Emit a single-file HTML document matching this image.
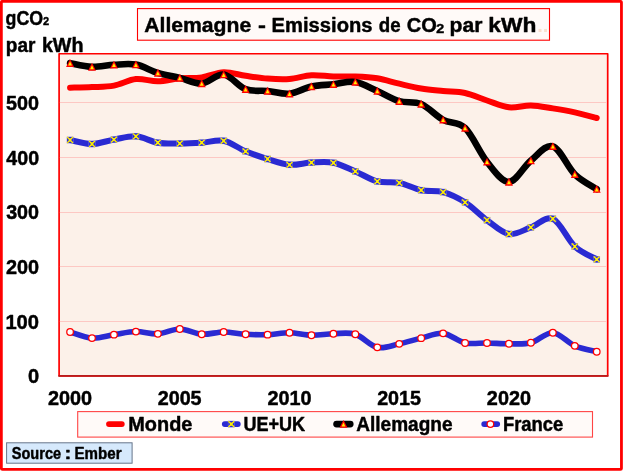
<!DOCTYPE html>
<html lang="fr"><head><meta charset="utf-8"><title>Allemagne - Emissions de CO2 par kWh</title>
<style>html,body{margin:0;padding:0;background:#ffffff;overflow:hidden;}svg{display:block;will-change:transform;}text{font-family:"Liberation Sans",sans-serif;font-weight:bold;fill:#000000;stroke:#000000;stroke-width:0.45px;stroke-linejoin:round;}</style></head><body>
<svg width="624" height="472" viewBox="0 0 624 472">
<rect x="0" y="0" width="624" height="472" fill="#ffffff"/>
<rect x="1.35" y="1.35" width="620.1" height="468.05" rx="1" ry="1" fill="#ffffff" stroke="#ff0000" stroke-width="2.8"/>
<rect x="59.1" y="53.75" width="548.6" height="322.1" fill="#fcf1e9" stroke="#ff0000" stroke-width="1.7" stroke-linejoin="round"/>
<line x1="59.9" x2="606.9" y1="102.5" y2="102.5" stroke="#fdc8c3" stroke-width="1"/>
<line x1="59.9" x2="606.9" y1="157.5" y2="157.5" stroke="#fdc8c3" stroke-width="1"/>
<line x1="59.9" x2="606.9" y1="212.5" y2="212.5" stroke="#fdc8c3" stroke-width="1"/>
<line x1="59.9" x2="606.9" y1="266.5" y2="266.5" stroke="#fdc8c3" stroke-width="1"/>
<line x1="59.9" x2="606.9" y1="321.5" y2="321.5" stroke="#fdc8c3" stroke-width="1"/>
<line x1="58.4" x2="608.4" y1="375.95" y2="375.95" stroke="#b81c1c" stroke-width="1.8"/>
<path d="M70.07 87.70 C73.73 87.60 84.70 87.45 92.01 87.10 C99.33 86.75 106.64 86.93 113.96 85.60 C121.27 84.27 128.59 79.82 135.90 79.10 C143.22 78.38 150.53 81.43 157.85 81.30 C165.16 81.17 172.48 78.95 179.79 78.30 C187.10 77.65 194.42 78.40 201.73 77.40 C209.05 76.40 216.36 72.57 223.68 72.30 C230.99 72.03 238.31 74.75 245.62 75.80 C252.94 76.85 260.25 78.07 267.57 78.60 C274.88 79.13 282.20 79.57 289.51 79.00 C296.82 78.43 304.14 75.62 311.45 75.20 C318.77 74.78 326.08 76.28 333.40 76.50 C340.71 76.72 348.03 76.20 355.34 76.50 C362.66 76.80 369.97 77.10 377.29 78.30 C384.60 79.50 391.92 82.00 399.23 83.70 C406.54 85.40 413.86 87.28 421.17 88.50 C428.49 89.72 435.80 90.25 443.12 91.00 C450.43 91.75 457.75 91.42 465.06 93.00 C472.38 94.58 479.69 98.12 487.01 100.50 C494.32 102.88 501.64 106.48 508.95 107.30 C516.26 108.12 523.58 105.22 530.89 105.40 C538.21 105.58 545.52 107.23 552.84 108.40 C560.15 109.57 567.47 110.80 574.78 112.40 C582.10 114.00 593.07 117.07 596.73 118.00" fill="none" stroke="#ff0000" stroke-width="6" stroke-linecap="round" stroke-linejoin="round"/>
<path d="M70.07 140.00 C73.73 140.67 84.70 144.07 92.01 144.00 C99.33 143.93 106.64 140.88 113.96 139.60 C121.27 138.32 128.59 135.78 135.90 136.30 C143.22 136.82 150.53 141.50 157.85 142.70 C165.16 143.90 172.48 143.50 179.79 143.50 C187.10 143.50 194.42 143.15 201.73 142.70 C209.05 142.25 216.36 139.37 223.68 140.80 C230.99 142.23 238.31 148.27 245.62 151.30 C252.94 154.33 260.25 156.75 267.57 159.00 C274.88 161.25 282.20 164.20 289.51 164.80 C296.82 165.40 304.14 162.93 311.45 162.60 C318.77 162.27 326.08 161.33 333.40 162.80 C340.71 164.27 348.03 168.30 355.34 171.40 C362.66 174.50 369.97 179.48 377.29 181.40 C384.60 183.32 391.92 181.43 399.23 182.90 C406.54 184.37 413.86 188.67 421.17 190.20 C428.49 191.73 435.80 190.08 443.12 192.10 C450.43 194.12 457.75 197.62 465.06 202.30 C472.38 206.98 479.69 214.92 487.01 220.20 C494.32 225.48 501.64 232.80 508.95 234.00 C516.26 235.20 523.58 229.93 530.89 227.40 C538.21 224.87 545.52 215.62 552.84 218.80 C560.15 221.98 567.47 239.73 574.78 246.50 C582.10 253.27 593.07 257.25 596.73 259.40" fill="none" stroke="#2a2ad2" stroke-width="6" stroke-linecap="round" stroke-linejoin="round"/>
<g><rect x="66.87" y="136.80" width="6.4" height="6.4" fill="#2a2ad2" stroke="#c8c8e0" stroke-width="0.4" stroke-opacity="0.6"/><path d="M67.17 137.10 L72.97 142.90 M67.17 142.90 L72.97 137.10" stroke="#ffee00" stroke-width="1.35" fill="none"/><rect x="68.97" y="138.50" width="2.2" height="3" fill="#ffee00"/><rect x="88.81" y="140.80" width="6.4" height="6.4" fill="#2a2ad2" stroke="#c8c8e0" stroke-width="0.4" stroke-opacity="0.6"/><path d="M89.11 141.10 L94.91 146.90 M89.11 146.90 L94.91 141.10" stroke="#ffee00" stroke-width="1.35" fill="none"/><rect x="90.91" y="142.50" width="2.2" height="3" fill="#ffee00"/><rect x="110.76" y="136.40" width="6.4" height="6.4" fill="#2a2ad2" stroke="#c8c8e0" stroke-width="0.4" stroke-opacity="0.6"/><path d="M111.06 136.70 L116.86 142.50 M111.06 142.50 L116.86 136.70" stroke="#ffee00" stroke-width="1.35" fill="none"/><rect x="112.86" y="138.10" width="2.2" height="3" fill="#ffee00"/><rect x="132.70" y="133.10" width="6.4" height="6.4" fill="#2a2ad2" stroke="#c8c8e0" stroke-width="0.4" stroke-opacity="0.6"/><path d="M133.00 133.40 L138.80 139.20 M133.00 139.20 L138.80 133.40" stroke="#ffee00" stroke-width="1.35" fill="none"/><rect x="134.80" y="134.80" width="2.2" height="3" fill="#ffee00"/><rect x="154.65" y="139.50" width="6.4" height="6.4" fill="#2a2ad2" stroke="#c8c8e0" stroke-width="0.4" stroke-opacity="0.6"/><path d="M154.95 139.80 L160.75 145.60 M154.95 145.60 L160.75 139.80" stroke="#ffee00" stroke-width="1.35" fill="none"/><rect x="156.75" y="141.20" width="2.2" height="3" fill="#ffee00"/><rect x="176.59" y="140.30" width="6.4" height="6.4" fill="#2a2ad2" stroke="#c8c8e0" stroke-width="0.4" stroke-opacity="0.6"/><path d="M176.89 140.60 L182.69 146.40 M176.89 146.40 L182.69 140.60" stroke="#ffee00" stroke-width="1.35" fill="none"/><rect x="178.69" y="142.00" width="2.2" height="3" fill="#ffee00"/><rect x="198.53" y="139.50" width="6.4" height="6.4" fill="#2a2ad2" stroke="#c8c8e0" stroke-width="0.4" stroke-opacity="0.6"/><path d="M198.83 139.80 L204.63 145.60 M198.83 145.60 L204.63 139.80" stroke="#ffee00" stroke-width="1.35" fill="none"/><rect x="200.63" y="141.20" width="2.2" height="3" fill="#ffee00"/><rect x="220.48" y="137.60" width="6.4" height="6.4" fill="#2a2ad2" stroke="#c8c8e0" stroke-width="0.4" stroke-opacity="0.6"/><path d="M220.78 137.90 L226.58 143.70 M220.78 143.70 L226.58 137.90" stroke="#ffee00" stroke-width="1.35" fill="none"/><rect x="222.58" y="139.30" width="2.2" height="3" fill="#ffee00"/><rect x="242.42" y="148.10" width="6.4" height="6.4" fill="#2a2ad2" stroke="#c8c8e0" stroke-width="0.4" stroke-opacity="0.6"/><path d="M242.72 148.40 L248.52 154.20 M242.72 154.20 L248.52 148.40" stroke="#ffee00" stroke-width="1.35" fill="none"/><rect x="244.52" y="149.80" width="2.2" height="3" fill="#ffee00"/><rect x="264.37" y="155.80" width="6.4" height="6.4" fill="#2a2ad2" stroke="#c8c8e0" stroke-width="0.4" stroke-opacity="0.6"/><path d="M264.67 156.10 L270.47 161.90 M264.67 161.90 L270.47 156.10" stroke="#ffee00" stroke-width="1.35" fill="none"/><rect x="266.47" y="157.50" width="2.2" height="3" fill="#ffee00"/><rect x="286.31" y="161.60" width="6.4" height="6.4" fill="#2a2ad2" stroke="#c8c8e0" stroke-width="0.4" stroke-opacity="0.6"/><path d="M286.61 161.90 L292.41 167.70 M286.61 167.70 L292.41 161.90" stroke="#ffee00" stroke-width="1.35" fill="none"/><rect x="288.41" y="163.30" width="2.2" height="3" fill="#ffee00"/><rect x="308.25" y="159.40" width="6.4" height="6.4" fill="#2a2ad2" stroke="#c8c8e0" stroke-width="0.4" stroke-opacity="0.6"/><path d="M308.55 159.70 L314.35 165.50 M308.55 165.50 L314.35 159.70" stroke="#ffee00" stroke-width="1.35" fill="none"/><rect x="310.35" y="161.10" width="2.2" height="3" fill="#ffee00"/><rect x="330.20" y="159.60" width="6.4" height="6.4" fill="#2a2ad2" stroke="#c8c8e0" stroke-width="0.4" stroke-opacity="0.6"/><path d="M330.50 159.90 L336.30 165.70 M330.50 165.70 L336.30 159.90" stroke="#ffee00" stroke-width="1.35" fill="none"/><rect x="332.30" y="161.30" width="2.2" height="3" fill="#ffee00"/><rect x="352.14" y="168.20" width="6.4" height="6.4" fill="#2a2ad2" stroke="#c8c8e0" stroke-width="0.4" stroke-opacity="0.6"/><path d="M352.44 168.50 L358.24 174.30 M352.44 174.30 L358.24 168.50" stroke="#ffee00" stroke-width="1.35" fill="none"/><rect x="354.24" y="169.90" width="2.2" height="3" fill="#ffee00"/><rect x="374.09" y="178.20" width="6.4" height="6.4" fill="#2a2ad2" stroke="#c8c8e0" stroke-width="0.4" stroke-opacity="0.6"/><path d="M374.39 178.50 L380.19 184.30 M374.39 184.30 L380.19 178.50" stroke="#ffee00" stroke-width="1.35" fill="none"/><rect x="376.19" y="179.90" width="2.2" height="3" fill="#ffee00"/><rect x="396.03" y="179.70" width="6.4" height="6.4" fill="#2a2ad2" stroke="#c8c8e0" stroke-width="0.4" stroke-opacity="0.6"/><path d="M396.33 180.00 L402.13 185.80 M396.33 185.80 L402.13 180.00" stroke="#ffee00" stroke-width="1.35" fill="none"/><rect x="398.13" y="181.40" width="2.2" height="3" fill="#ffee00"/><rect x="417.97" y="187.00" width="6.4" height="6.4" fill="#2a2ad2" stroke="#c8c8e0" stroke-width="0.4" stroke-opacity="0.6"/><path d="M418.27 187.30 L424.07 193.10 M418.27 193.10 L424.07 187.30" stroke="#ffee00" stroke-width="1.35" fill="none"/><rect x="420.07" y="188.70" width="2.2" height="3" fill="#ffee00"/><rect x="439.92" y="188.90" width="6.4" height="6.4" fill="#2a2ad2" stroke="#c8c8e0" stroke-width="0.4" stroke-opacity="0.6"/><path d="M440.22 189.20 L446.02 195.00 M440.22 195.00 L446.02 189.20" stroke="#ffee00" stroke-width="1.35" fill="none"/><rect x="442.02" y="190.60" width="2.2" height="3" fill="#ffee00"/><rect x="461.86" y="199.10" width="6.4" height="6.4" fill="#2a2ad2" stroke="#c8c8e0" stroke-width="0.4" stroke-opacity="0.6"/><path d="M462.16 199.40 L467.96 205.20 M462.16 205.20 L467.96 199.40" stroke="#ffee00" stroke-width="1.35" fill="none"/><rect x="463.96" y="200.80" width="2.2" height="3" fill="#ffee00"/><rect x="483.81" y="217.00" width="6.4" height="6.4" fill="#2a2ad2" stroke="#c8c8e0" stroke-width="0.4" stroke-opacity="0.6"/><path d="M484.11 217.30 L489.91 223.10 M484.11 223.10 L489.91 217.30" stroke="#ffee00" stroke-width="1.35" fill="none"/><rect x="485.91" y="218.70" width="2.2" height="3" fill="#ffee00"/><rect x="505.75" y="230.80" width="6.4" height="6.4" fill="#2a2ad2" stroke="#c8c8e0" stroke-width="0.4" stroke-opacity="0.6"/><path d="M506.05 231.10 L511.85 236.90 M506.05 236.90 L511.85 231.10" stroke="#ffee00" stroke-width="1.35" fill="none"/><rect x="507.85" y="232.50" width="2.2" height="3" fill="#ffee00"/><rect x="527.69" y="224.20" width="6.4" height="6.4" fill="#2a2ad2" stroke="#c8c8e0" stroke-width="0.4" stroke-opacity="0.6"/><path d="M527.99 224.50 L533.79 230.30 M527.99 230.30 L533.79 224.50" stroke="#ffee00" stroke-width="1.35" fill="none"/><rect x="529.79" y="225.90" width="2.2" height="3" fill="#ffee00"/><rect x="549.64" y="215.60" width="6.4" height="6.4" fill="#2a2ad2" stroke="#c8c8e0" stroke-width="0.4" stroke-opacity="0.6"/><path d="M549.94 215.90 L555.74 221.70 M549.94 221.70 L555.74 215.90" stroke="#ffee00" stroke-width="1.35" fill="none"/><rect x="551.74" y="217.30" width="2.2" height="3" fill="#ffee00"/><rect x="571.58" y="243.30" width="6.4" height="6.4" fill="#2a2ad2" stroke="#c8c8e0" stroke-width="0.4" stroke-opacity="0.6"/><path d="M571.88 243.60 L577.68 249.40 M571.88 249.40 L577.68 243.60" stroke="#ffee00" stroke-width="1.35" fill="none"/><rect x="573.68" y="245.00" width="2.2" height="3" fill="#ffee00"/><rect x="593.53" y="256.20" width="6.4" height="6.4" fill="#2a2ad2" stroke="#c8c8e0" stroke-width="0.4" stroke-opacity="0.6"/><path d="M593.83 256.50 L599.63 262.30 M593.83 262.30 L599.63 256.50" stroke="#ffee00" stroke-width="1.35" fill="none"/><rect x="595.63" y="257.90" width="2.2" height="3" fill="#ffee00"/></g>
<path d="M70.07 63.20 C73.73 63.82 84.70 66.63 92.01 66.90 C99.33 67.17 106.64 65.18 113.96 64.80 C121.27 64.42 128.59 63.25 135.90 64.60 C143.22 65.95 150.53 70.68 157.85 72.90 C165.16 75.12 172.48 76.13 179.79 77.90 C187.10 79.67 194.42 84.05 201.73 83.50 C209.05 82.95 216.36 73.65 223.68 74.60 C230.99 75.55 238.31 86.47 245.62 89.20 C252.94 91.93 260.25 90.25 267.57 91.00 C274.88 91.75 282.20 94.45 289.51 93.70 C296.82 92.95 304.14 88.07 311.45 86.50 C318.77 84.93 326.08 85.05 333.40 84.30 C340.71 83.55 348.03 80.88 355.34 82.00 C362.66 83.12 369.97 87.80 377.29 91.00 C384.60 94.20 391.92 99.03 399.23 101.20 C406.54 103.37 413.86 100.90 421.17 104.00 C428.49 107.10 435.80 115.82 443.12 119.80 C450.43 123.78 457.75 120.90 465.06 127.90 C472.38 134.90 479.69 152.80 487.01 161.80 C494.32 170.80 501.64 182.10 508.95 181.90 C516.26 181.70 523.58 166.53 530.89 160.60 C538.21 154.67 545.52 144.02 552.84 146.30 C560.15 148.58 567.47 167.17 574.78 174.30 C582.10 181.43 593.07 186.63 596.73 189.10" fill="none" stroke="#000000" stroke-width="6.6" stroke-linecap="round" stroke-linejoin="round"/>
<g><path d="M70.07 59.05 L74.07 66.95 L66.07 66.95 Z" fill="#ff0000"/><path d="M70.07 61.50 L72.02 65.50 L68.12 65.50 Z" fill="#ffee00"/><path d="M92.01 62.75 L96.01 70.65 L88.01 70.65 Z" fill="#ff0000"/><path d="M92.01 65.20 L93.96 69.20 L90.06 69.20 Z" fill="#ffee00"/><path d="M113.96 60.65 L117.96 68.55 L109.96 68.55 Z" fill="#ff0000"/><path d="M113.96 63.10 L115.91 67.10 L112.01 67.10 Z" fill="#ffee00"/><path d="M135.90 60.45 L139.90 68.35 L131.90 68.35 Z" fill="#ff0000"/><path d="M135.90 62.90 L137.85 66.90 L133.95 66.90 Z" fill="#ffee00"/><path d="M157.85 68.75 L161.85 76.65 L153.85 76.65 Z" fill="#ff0000"/><path d="M157.85 71.20 L159.80 75.20 L155.90 75.20 Z" fill="#ffee00"/><path d="M179.79 73.75 L183.79 81.65 L175.79 81.65 Z" fill="#ff0000"/><path d="M179.79 76.20 L181.74 80.20 L177.84 80.20 Z" fill="#ffee00"/><path d="M201.73 79.35 L205.73 87.25 L197.73 87.25 Z" fill="#ff0000"/><path d="M201.73 81.80 L203.68 85.80 L199.78 85.80 Z" fill="#ffee00"/><path d="M223.68 70.45 L227.68 78.35 L219.68 78.35 Z" fill="#ff0000"/><path d="M223.68 72.90 L225.63 76.90 L221.73 76.90 Z" fill="#ffee00"/><path d="M245.62 85.05 L249.62 92.95 L241.62 92.95 Z" fill="#ff0000"/><path d="M245.62 87.50 L247.57 91.50 L243.67 91.50 Z" fill="#ffee00"/><path d="M267.57 86.85 L271.57 94.75 L263.57 94.75 Z" fill="#ff0000"/><path d="M267.57 89.30 L269.52 93.30 L265.62 93.30 Z" fill="#ffee00"/><path d="M289.51 89.55 L293.51 97.45 L285.51 97.45 Z" fill="#ff0000"/><path d="M289.51 92.00 L291.46 96.00 L287.56 96.00 Z" fill="#ffee00"/><path d="M311.45 82.35 L315.45 90.25 L307.45 90.25 Z" fill="#ff0000"/><path d="M311.45 84.80 L313.40 88.80 L309.50 88.80 Z" fill="#ffee00"/><path d="M333.40 80.15 L337.40 88.05 L329.40 88.05 Z" fill="#ff0000"/><path d="M333.40 82.60 L335.35 86.60 L331.45 86.60 Z" fill="#ffee00"/><path d="M355.34 77.85 L359.34 85.75 L351.34 85.75 Z" fill="#ff0000"/><path d="M355.34 80.30 L357.29 84.30 L353.39 84.30 Z" fill="#ffee00"/><path d="M377.29 86.85 L381.29 94.75 L373.29 94.75 Z" fill="#ff0000"/><path d="M377.29 89.30 L379.24 93.30 L375.34 93.30 Z" fill="#ffee00"/><path d="M399.23 97.05 L403.23 104.95 L395.23 104.95 Z" fill="#ff0000"/><path d="M399.23 99.50 L401.18 103.50 L397.28 103.50 Z" fill="#ffee00"/><path d="M421.17 99.85 L425.17 107.75 L417.17 107.75 Z" fill="#ff0000"/><path d="M421.17 102.30 L423.12 106.30 L419.22 106.30 Z" fill="#ffee00"/><path d="M443.12 115.65 L447.12 123.55 L439.12 123.55 Z" fill="#ff0000"/><path d="M443.12 118.10 L445.07 122.10 L441.17 122.10 Z" fill="#ffee00"/><path d="M465.06 123.75 L469.06 131.65 L461.06 131.65 Z" fill="#ff0000"/><path d="M465.06 126.20 L467.01 130.20 L463.11 130.20 Z" fill="#ffee00"/><path d="M487.01 157.65 L491.01 165.55 L483.01 165.55 Z" fill="#ff0000"/><path d="M487.01 160.10 L488.96 164.10 L485.06 164.10 Z" fill="#ffee00"/><path d="M508.95 177.75 L512.95 185.65 L504.95 185.65 Z" fill="#ff0000"/><path d="M508.95 180.20 L510.90 184.20 L507.00 184.20 Z" fill="#ffee00"/><path d="M530.89 156.45 L534.89 164.35 L526.89 164.35 Z" fill="#ff0000"/><path d="M530.89 158.90 L532.84 162.90 L528.94 162.90 Z" fill="#ffee00"/><path d="M552.84 142.15 L556.84 150.05 L548.84 150.05 Z" fill="#ff0000"/><path d="M552.84 144.60 L554.79 148.60 L550.89 148.60 Z" fill="#ffee00"/><path d="M574.78 170.15 L578.78 178.05 L570.78 178.05 Z" fill="#ff0000"/><path d="M574.78 172.60 L576.73 176.60 L572.83 176.60 Z" fill="#ffee00"/><path d="M596.73 184.95 L600.73 192.85 L592.73 192.85 Z" fill="#ff0000"/><path d="M596.73 187.40 L598.68 191.40 L594.78 191.40 Z" fill="#ffee00"/></g>
<path d="M70.07 331.95 C73.73 332.97 84.70 337.60 92.01 338.05 C99.33 338.50 106.64 335.73 113.96 334.65 C121.27 333.57 128.59 331.68 135.90 331.55 C143.22 331.42 150.53 334.28 157.85 333.85 C165.16 333.42 172.48 328.88 179.79 328.95 C187.10 329.02 194.42 333.75 201.73 334.25 C209.05 334.75 216.36 331.95 223.68 331.95 C230.99 331.95 238.31 333.80 245.62 334.25 C252.94 334.70 260.25 334.90 267.57 334.65 C274.88 334.40 282.20 332.65 289.51 332.75 C296.82 332.85 304.14 335.08 311.45 335.25 C318.77 335.42 326.08 333.92 333.40 333.75 C340.71 333.58 348.03 331.98 355.34 334.25 C362.66 336.52 369.97 345.75 377.29 347.35 C384.60 348.95 391.92 345.38 399.23 343.85 C406.54 342.32 413.86 339.90 421.17 338.15 C428.49 336.40 435.80 332.55 443.12 333.35 C450.43 334.15 457.75 341.35 465.06 342.95 C472.38 344.55 479.69 342.82 487.01 342.95 C494.32 343.08 501.64 343.78 508.95 343.75 C516.26 343.72 523.58 344.58 530.89 342.75 C538.21 340.92 545.52 332.23 552.84 332.75 C560.15 333.27 567.47 342.68 574.78 345.85 C582.10 349.02 593.07 350.77 596.73 351.75" fill="none" stroke="#2a2ad2" stroke-width="5.6" stroke-linecap="round" stroke-linejoin="round"/>
<g><circle cx="70.07" cy="331.95" r="3.30" fill="#ffffff" stroke="#ff0000" stroke-width="1.25"/><circle cx="92.01" cy="338.05" r="3.30" fill="#ffffff" stroke="#ff0000" stroke-width="1.25"/><circle cx="113.96" cy="334.65" r="3.30" fill="#ffffff" stroke="#ff0000" stroke-width="1.25"/><circle cx="135.90" cy="331.55" r="3.30" fill="#ffffff" stroke="#ff0000" stroke-width="1.25"/><circle cx="157.85" cy="333.85" r="3.30" fill="#ffffff" stroke="#ff0000" stroke-width="1.25"/><circle cx="179.79" cy="328.95" r="3.30" fill="#ffffff" stroke="#ff0000" stroke-width="1.25"/><circle cx="201.73" cy="334.25" r="3.30" fill="#ffffff" stroke="#ff0000" stroke-width="1.25"/><circle cx="223.68" cy="331.95" r="3.30" fill="#ffffff" stroke="#ff0000" stroke-width="1.25"/><circle cx="245.62" cy="334.25" r="3.30" fill="#ffffff" stroke="#ff0000" stroke-width="1.25"/><circle cx="267.57" cy="334.65" r="3.30" fill="#ffffff" stroke="#ff0000" stroke-width="1.25"/><circle cx="289.51" cy="332.75" r="3.30" fill="#ffffff" stroke="#ff0000" stroke-width="1.25"/><circle cx="311.45" cy="335.25" r="3.30" fill="#ffffff" stroke="#ff0000" stroke-width="1.25"/><circle cx="333.40" cy="333.75" r="3.30" fill="#ffffff" stroke="#ff0000" stroke-width="1.25"/><circle cx="355.34" cy="334.25" r="3.30" fill="#ffffff" stroke="#ff0000" stroke-width="1.25"/><circle cx="377.29" cy="347.35" r="3.30" fill="#ffffff" stroke="#ff0000" stroke-width="1.25"/><circle cx="399.23" cy="343.85" r="3.30" fill="#ffffff" stroke="#ff0000" stroke-width="1.25"/><circle cx="421.17" cy="338.15" r="3.30" fill="#ffffff" stroke="#ff0000" stroke-width="1.25"/><circle cx="443.12" cy="333.35" r="3.30" fill="#ffffff" stroke="#ff0000" stroke-width="1.25"/><circle cx="465.06" cy="342.95" r="3.30" fill="#ffffff" stroke="#ff0000" stroke-width="1.25"/><circle cx="487.01" cy="342.95" r="3.30" fill="#ffffff" stroke="#ff0000" stroke-width="1.25"/><circle cx="508.95" cy="343.75" r="3.30" fill="#ffffff" stroke="#ff0000" stroke-width="1.25"/><circle cx="530.89" cy="342.75" r="3.30" fill="#ffffff" stroke="#ff0000" stroke-width="1.25"/><circle cx="552.84" cy="332.75" r="3.30" fill="#ffffff" stroke="#ff0000" stroke-width="1.25"/><circle cx="574.78" cy="345.85" r="3.30" fill="#ffffff" stroke="#ff0000" stroke-width="1.25"/><circle cx="596.73" cy="351.75" r="3.30" fill="#ffffff" stroke="#ff0000" stroke-width="1.25"/></g>
<rect x="137.5" y="8.6" width="412" height="31.6" fill="#fffaf8" stroke="#ff0000" stroke-width="1.1"/>
<rect x="77.7" y="411.6" width="514.8" height="25.5" fill="#fffaf8" stroke="#ff4545" stroke-width="1.1"/>
<rect x="6.6" y="442.8" width="125.5" height="20.4" fill="#d6e9fc" stroke="#66758a" stroke-width="1"/>
<line x1="109.0" x2="121.8" y1="424.1" y2="424.1" stroke="#ff0000" stroke-width="5.8" stroke-linecap="round"/>
<line x1="224.8" x2="237.8" y1="424.1" y2="424.1" stroke="#2a2ad2" stroke-width="5.8" stroke-linecap="round"/>
<rect x="228.10" y="420.90" width="6.4" height="6.4" fill="#2a2ad2" stroke="#c8c8e0" stroke-width="0.4" stroke-opacity="0.6"/><path d="M228.40 421.20 L234.20 427.00 M228.40 427.00 L234.20 421.20" stroke="#ffee00" stroke-width="1.35" fill="none"/><rect x="230.20" y="422.60" width="2.2" height="3" fill="#ffee00"/>
<line x1="336.6" x2="350.2" y1="424.1" y2="424.1" stroke="#000000" stroke-width="6.8" stroke-linecap="round"/>
<path d="M343.50 419.95 L347.50 427.85 L339.50 427.85 Z" fill="#ff0000"/><path d="M343.50 422.40 L345.45 426.40 L341.55 426.40 Z" fill="#ffee00"/>
<line x1="484.2" x2="497.2" y1="424.1" y2="424.1" stroke="#2a2ad2" stroke-width="5.8" stroke-linecap="round"/>
<circle cx="490.40" cy="424.10" r="3.30" fill="#ffffff" stroke="#ff0000" stroke-width="1.25"/>
<g><text transform="translate(5.54 25.00) scale(0.8988 1)" font-size="19.8" text-anchor="start">gCO</text><text transform="translate(42.53 23.90) scale(0.7607 1)" font-size="21" text-anchor="start">₂</text></g>
<g><text transform="translate(5.82 51.50) scale(0.9620 1)" font-size="19.8" text-anchor="start">par</text> <text transform="translate(41.88 51.50) scale(0.9968 1)" font-size="19.8" text-anchor="start">kWh</text></g>
<g><text transform="translate(144.22 32.35) scale(1.0078 1)" font-size="21" text-anchor="start">Allemagne</text> <text transform="translate(257.89 32.35) scale(1.1304 1)" font-size="21" text-anchor="start">-</text> <text transform="translate(271.62 32.35) scale(0.9608 1)" font-size="21" text-anchor="start">Emissions</text> <text transform="translate(378.84 32.35) scale(0.8898 1)" font-size="21" text-anchor="start">de</text> <text transform="translate(406.80 32.35) scale(0.9521 1)" font-size="21" text-anchor="start">CO</text><text transform="translate(435.62 31.75) scale(0.8706 1)" font-size="24" text-anchor="start">₂</text> <text transform="translate(449.57 32.35) scale(1.0063 1)" font-size="21" text-anchor="start">par</text> <text transform="translate(488.24 32.35) scale(1.0857 1)" font-size="21" text-anchor="start">kWh</text></g>
<text x="537.2" y="32.4" font-size="20" fill="#fae0cf" style="fill:#fae0cf;stroke:none">..</text>
<g>
<text transform="translate(6.02 109.99) scale(1.0000 1)" font-size="19.8" text-anchor="start">500</text>
<text transform="translate(6.28 164.74) scale(0.9922 1)" font-size="19.8" text-anchor="start">400</text>
<text transform="translate(6.15 219.24) scale(0.9961 1)" font-size="19.8" text-anchor="start">300</text>
<text transform="translate(5.90 273.94) scale(1.0039 1)" font-size="19.8" text-anchor="start">200</text>
<text transform="translate(5.38 328.84) scale(1.0199 1)" font-size="19.8" text-anchor="start">100</text>
<text transform="translate(27.89 382.94) scale(1.0127 1)" font-size="19.8" text-anchor="start">0</text>
</g>
<g><text transform="translate(47.97 404.90) scale(1.0029 1)" font-size="19.8" text-anchor="start">2000</text> <text transform="translate(157.69 404.90) scale(0.9971 1)" font-size="19.8" text-anchor="start">2005</text> <text transform="translate(267.41 404.90) scale(1.0029 1)" font-size="19.8" text-anchor="start">2010</text> <text transform="translate(377.13 404.90) scale(0.9971 1)" font-size="19.8" text-anchor="start">2015</text> <text transform="translate(486.85 404.90) scale(1.0029 1)" font-size="19.8" text-anchor="start">2020</text></g>
<g><text transform="translate(128.26 430.50) scale(1.0163 1)" font-size="19.6" text-anchor="start">Monde</text> <text transform="translate(243.48 430.50) scale(0.9212 1)" font-size="19.6" text-anchor="start">UE+UK</text> <text transform="translate(356.26 430.50) scale(0.9718 1)" font-size="19.6" text-anchor="start">Allemagne</text> <text transform="translate(502.94 430.50) scale(0.9405 1)" font-size="19.6" text-anchor="start">France</text></g>
<g><text transform="translate(11.78 459.30) scale(0.8873 1)" font-size="16.4" text-anchor="start">Source</text> <text transform="translate(64.60 459.30) scale(1.2364 1)" font-size="16.4" text-anchor="start">:</text> <text transform="translate(74.49 459.30) scale(0.9217 1)" font-size="16.4" text-anchor="start">Ember</text></g>
</svg></body></html>
